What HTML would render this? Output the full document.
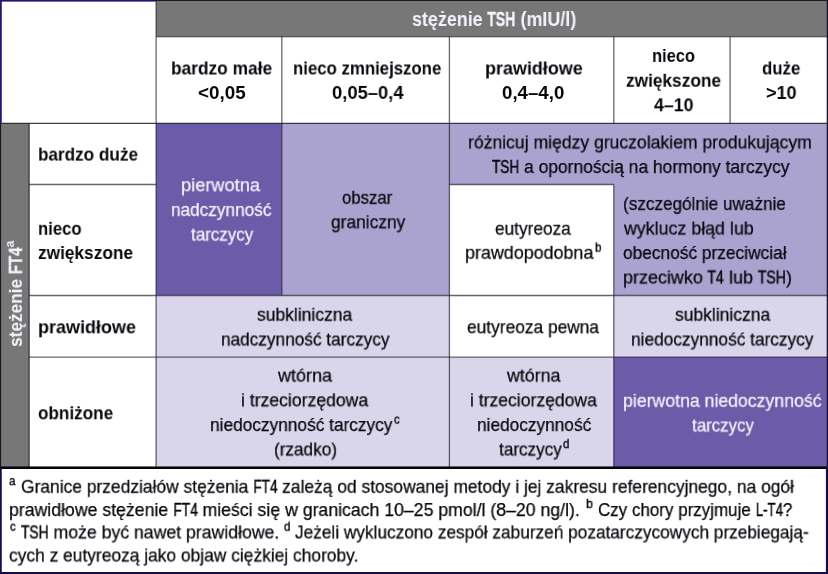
<!DOCTYPE html><html lang="pl"><head><meta charset="utf-8"><title>TSH / FT4</title><style>
html,body{margin:0;padding:0;background:#fff}
#p{position:relative;width:828px;height:574px;overflow:hidden;background:#fff;font-family:"Liberation Sans", Arial, sans-serif;font-size:18.5px;color:#08070d}
.t{position:absolute;will-change:transform;white-space:nowrap;line-height:24px;height:24px;transform-origin:0 0;margin:0}
.t{-webkit-text-stroke:0.25px currentColor}
.b{font-weight:bold;-webkit-text-stroke:0}
.w{color:#f6f2fc}
.t i{font-style:normal;display:inline-block;transform:scaleX(0.78);transform-origin:0 50%;-webkit-text-stroke:0.5px currentColor}
.b i{-webkit-text-stroke:0.35px currentColor}
.u{font-size:13.5px;-webkit-text-stroke:0.4px currentColor}
.hd{font-size:19.5px}
.t sup{vertical-align:baseline;font-size:13px;position:relative;top:-7.5px;line-height:1}
</style></head><body><div id="p">
<svg width="828" height="574" viewBox="0 0 828 574" style="position:absolute;left:0;top:0"><rect x="156.1" y="0" width="671.90" height="37.10" fill="#777777"/><rect x="0" y="123.4" width="29.60" height="344.30" fill="#777777"/><rect x="156.1" y="123.4" width="125.75" height="172.10" fill="#6b5ba8"/><rect x="281.85" y="123.4" width="546.15" height="172.10" fill="#aaa2cf"/><rect x="449.4" y="184.5" width="164.40" height="111.00" fill="#ffffff"/><rect x="156.1" y="295.5" width="671.90" height="172.20" fill="#d9d5ea"/><rect x="449.4" y="295.5" width="164.40" height="61.60" fill="#ffffff"/><rect x="613.8" y="357.1" width="214.20" height="110.60" fill="#6b5ba8"/><line x1="29.0" y1="123.4" x2="29.0" y2="467.7" stroke="rgba(28,26,40,0.66)" stroke-width="1.3"/><line x1="156.1" y1="0" x2="156.1" y2="467.7" stroke="rgba(28,26,40,0.66)" stroke-width="1.3"/><line x1="281.85" y1="36.8" x2="281.85" y2="295.5" stroke="rgba(28,26,40,0.66)" stroke-width="1.3"/><line x1="449.4" y1="36.8" x2="449.4" y2="467.7" stroke="rgba(28,26,40,0.66)" stroke-width="1.3"/><line x1="613.8" y1="36.8" x2="613.8" y2="123.4" stroke="rgba(28,26,40,0.66)" stroke-width="1.3"/><line x1="613.8" y1="184.5" x2="613.8" y2="467.7" stroke="rgba(28,26,40,0.66)" stroke-width="1.3"/><line x1="730.1" y1="36.8" x2="730.1" y2="123.4" stroke="rgba(28,26,40,0.66)" stroke-width="1.3"/><line x1="156.1" y1="36.8" x2="828" y2="36.8" stroke="rgba(20,20,20,0.33)" stroke-width="1.4"/><line x1="0" y1="123.4" x2="828" y2="123.4" stroke="rgba(18,16,34,0.8)" stroke-width="1.3"/><line x1="29.0" y1="184.5" x2="156.1" y2="184.5" stroke="rgba(28,26,40,0.66)" stroke-width="1.3"/><line x1="449.4" y1="184.5" x2="613.8" y2="184.5" stroke="rgba(28,26,40,0.66)" stroke-width="1.3"/><line x1="29.0" y1="295.5" x2="828" y2="295.5" stroke="rgba(28,26,40,0.66)" stroke-width="1.3"/><line x1="29.0" y1="357.1" x2="828" y2="357.1" stroke="rgba(28,26,40,0.66)" stroke-width="1.3"/><rect x="0" y="466.45" width="828.00" height="2.55" fill="#050409"/><rect x="0" y="0" width="156.10" height="1.60" fill="#1f1470"/><rect x="156.1" y="0" width="671.90" height="0.95" fill="#161616"/><rect x="0" y="0" width="1.75" height="123.40" fill="#1f1470"/><rect x="0" y="123.4" width="1.05" height="344.30" fill="#161616"/><rect x="0" y="467.7" width="1.75" height="106.30" fill="#140c4a"/><rect x="826.7" y="0" width="1.30" height="467.70" fill="#1a1538"/><rect x="825.9" y="467.7" width="2.10" height="106.30" fill="#140c4a"/><rect x="0" y="572.0" width="828.00" height="2.00" fill="#140c4a"/></svg>
<div class="t b w" id="rot" style="left:0;top:0;transform:translate(3.9px,346.95px) rotate(-90deg) scaleX(0.9322)">stężenie <i style="transform:scaleX(0.87);margin-right:-0.231em">FT4</i><sup style="top:-8.5px">a</sup></div>
<div class="t b w hd" id="t0" style="left:412.11px;top:7px;transform:translateY(0.00px) scaleX(0.9179)">stężenie <i style="margin-right:-0.440em">TSH</i> (mIU/l)</div>
<div class="t b" id="t1" style="left:170.61px;top:56px;transform:translateY(0.50px) scaleX(0.9367)">bardzo małe</div>
<div class="t b" id="t2" style="left:197.71px;top:80px;transform:translateY(0.90px) scaleX(1.0186)">&lt;0,05</div>
<div class="t b" id="t3" style="left:293.45px;top:56px;transform:translateY(0.50px) scaleX(0.9072)">nieco zmniejszone</div>
<div class="t b" id="t4" style="left:332.15px;top:80px;transform:translateY(0.90px) scaleX(0.9934)">0,05–0,4</div>
<div class="t b" id="t5" style="left:485.07px;top:56px;transform:translateY(0.50px) scaleX(0.9704)">prawidłowe</div>
<div class="t b" id="t6" style="left:502.44px;top:80px;transform:translateY(0.90px) scaleX(1.0092)">0,4–4,0</div>
<div class="t b" id="t7" style="left:652.27px;top:43px;transform:translateY(0.90px) scaleX(0.8891)">nieco</div>
<div class="t b" id="t8" style="left:626.41px;top:68px;transform:translateY(0.70px) scaleX(0.9336)">zwiększone</div>
<div class="t b" id="t9" style="left:654.41px;top:93px;transform:translateY(0.30px) scaleX(0.9611)">4–10</div>
<div class="t b" id="t10" style="left:761.85px;top:56px;transform:translateY(0.50px) scaleX(0.9121)">duże</div>
<div class="t b" id="t11" style="left:765.84px;top:81px;transform:translateY(0.00px) scaleX(0.9761)">&gt;10</div>
<div class="t b" id="t12" style="left:38.43px;top:142px;transform:translateY(0.60px) scaleX(0.9263)">bardzo duże</div>
<div class="t b" id="t13" style="left:38.06px;top:216px;transform:translateY(0.80px) scaleX(0.9021)">nieco</div>
<div class="t b" id="t14" style="left:38.31px;top:241px;transform:translateY(0.00px) scaleX(0.9336)">zwiększone</div>
<div class="t b" id="t15" style="left:38.37px;top:315px;transform:translateY(0.30px) scaleX(0.9724)">prawidłowe</div>
<div class="t b" id="t16" style="left:38.17px;top:401px;transform:translateY(0.30px) scaleX(0.9256)">obniżone</div>
<div class="t w" id="t17" style="left:181.37px;top:173px;transform:translateY(0.20px) scaleX(0.9838)">pierwotna</div>
<div class="t w" id="t18" style="left:171.01px;top:197px;transform:translateY(0.90px) scaleX(0.9297)">nadczynność</div>
<div class="t w" id="t19" style="left:190.53px;top:222px;transform:translateY(0.60px) scaleX(0.9180)">tarczycy</div>
<div class="t " id="t20" style="left:342.43px;top:185px;transform:translateY(0.80px) scaleX(0.9069)">obszar</div>
<div class="t " id="t21" style="left:330.72px;top:210px;transform:translateY(0.20px) scaleX(0.9372)">graniczny</div>
<div class="t " id="t22" style="left:468.40px;top:130px;transform:translateY(0.40px) scaleX(0.9500)">różnicuj między gruczolakiem produkującym</div>
<div class="t " id="t23" style="left:491.64px;top:155px;transform:translateY(0.00px) scaleX(0.9422)"><i style="margin-right:-0.440em">TSH</i> a opornością na hormony tarczycy</div>
<div class="t " id="t24" style="left:495.31px;top:216px;transform:translateY(0.70px) scaleX(0.9319)">eutyreoza</div>
<div class="t " id="t25" style="left:465.29px;top:240px;transform:translateY(0.80px) scaleX(0.9671)">prawdopodobna</div>
<div class="t u" id="t26" style="left:595.36px;top:235px;transform:translateY(0.60px) scaleX(0.8574)">b</div>
<div class="t " id="t27" style="left:623.15px;top:191px;transform:translateY(0.90px) scaleX(0.9259)">(szczególnie uważnie</div>
<div class="t " id="t28" style="left:623.84px;top:216px;transform:translateY(0.50px) scaleX(0.9625)">wyklucz błąd lub</div>
<div class="t " id="t29" style="left:623.21px;top:241px;transform:translateY(0.00px) scaleX(0.9354)">obecność przeciwciał</div>
<div class="t " id="t30" style="left:622.69px;top:265px;transform:translateY(0.50px) scaleX(0.9700)">przeciwko <i style="margin-right:-0.257em">T4</i> lub <i style="margin-right:-0.440em">TSH</i>)</div>
<div class="t " id="t31" style="left:257.02px;top:302px;transform:translateY(0.70px) scaleX(0.9444)">subkliniczna</div>
<div class="t " id="t32" style="left:220.51px;top:327px;transform:translateY(0.50px) scaleX(0.9310)">nadczynność tarczycy</div>
<div class="t " id="t33" style="left:467.41px;top:315px;transform:translateY(0.20px) scaleX(0.9369)">eutyreoza pewna</div>
<div class="t " id="t34" style="left:674.52px;top:302px;transform:translateY(0.70px) scaleX(0.9444)">subkliniczna</div>
<div class="t " id="t35" style="left:631.41px;top:327px;transform:translateY(0.50px) scaleX(0.9341)">niedoczynność tarczycy</div>
<div class="t " id="t36" style="left:277.84px;top:363px;transform:translateY(0.60px) scaleX(0.9721)">wtórna</div>
<div class="t " id="t37" style="left:240.71px;top:388px;transform:translateY(0.30px) scaleX(0.9508)">i trzeciorzędowa</div>
<div class="t " id="t38" style="left:210.31px;top:413px;transform:translateY(0.00px) scaleX(0.9341)">niedoczynność tarczycy</div>
<div class="t u" id="t39" style="left:393.88px;top:407px;transform:translateY(0.60px) scaleX(0.8500)">c</div>
<div class="t " id="t40" style="left:273.75px;top:437px;transform:translateY(0.50px) scaleX(0.9275)">(rzadko)</div>
<div class="t " id="t41" style="left:507.04px;top:363px;transform:translateY(0.60px) scaleX(0.9613)">wtórna</div>
<div class="t " id="t42" style="left:469.51px;top:388px;transform:translateY(0.30px) scaleX(0.9485)">i trzeciorzędowa</div>
<div class="t " id="t43" style="left:476.61px;top:413px;transform:translateY(0.00px) scaleX(0.9328)">niedoczynność</div>
<div class="t " id="t44" style="left:499.13px;top:437px;transform:translateY(0.50px) scaleX(0.9268)">tarczycy</div>
<div class="t u" id="t45" style="left:562.69px;top:432px;transform:translateY(0.10px) scaleX(0.8500)">d</div>
<div class="t w" id="t46" style="left:623.21px;top:388px;transform:translateY(0.80px) scaleX(0.9556)">pierwotna niedoczynność</div>
<div class="t w" id="t47" style="left:692.24px;top:413px;transform:translateY(0.50px) scaleX(0.9135)">tarczycy</div>
<div class="t u" id="t48" style="left:9.46px;top:469px;transform:translateY(0.10px) scaleX(0.8500)">a</div>
<div class="t " id="t49" style="left:21.14px;top:474px;transform:translateY(0.80px) scaleX(0.9407)">Granice przedziałów stężenia <i style="margin-right:-0.391em">FT4</i> zależą od stosowanej metody i jej zakresu referencyjnego, na ogół</div>
<div class="t " id="t50" style="left:9.41px;top:498px;transform:translateY(0.00px) scaleX(0.9555)">prawidłowe stężenie <i style="margin-right:-0.391em">FT4</i> mieści się w granicach 10–25 pmol/l (8–20 ng/l).</div>
<div class="t u" id="t51" style="left:585.82px;top:491px;transform:translateY(0.90px) scaleX(0.9209)">b</div>
<div class="t " id="t52" style="left:598.26px;top:498px;transform:translateY(0.00px) scaleX(0.9172)">Czy chory przyjmuje <i style="margin-right:-0.452em">L-T4</i>?</div>
<div class="t u" id="t53" style="left:9.88px;top:514px;transform:translateY(0.70px) scaleX(0.8500)">c</div>
<div class="t " id="t54" style="left:21.34px;top:520px;transform:translateY(0.40px) scaleX(0.9549)"><i style="margin-right:-0.440em">TSH</i> może być nawet prawidłowe.</div>
<div class="t u" id="t55" style="left:283.89px;top:514px;transform:translateY(0.70px) scaleX(0.8562)">d</div>
<div class="t " id="t56" style="left:295.05px;top:520px;transform:translateY(0.40px) scaleX(0.9320)">Jeżeli wykluczono zespół zaburzeń pozatarczycowych przebiegają-</div>
<div class="t " id="t57" style="left:9.31px;top:543px;transform:translateY(0.50px) scaleX(0.9395)">cych z eutyreozą jako objaw ciężkiej choroby.</div>
</div></body></html>
